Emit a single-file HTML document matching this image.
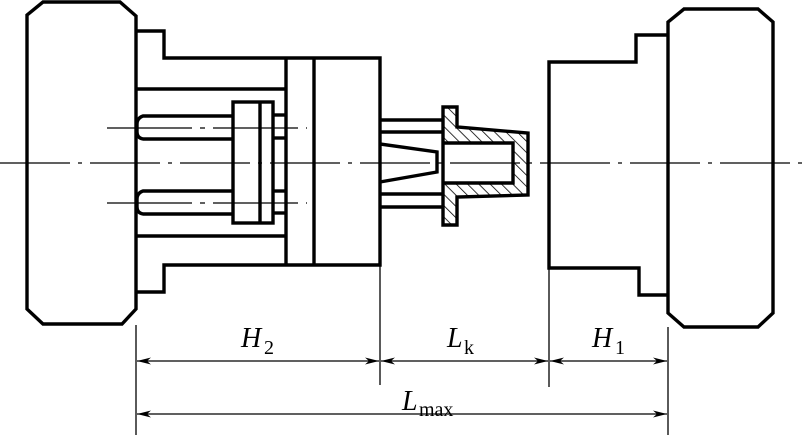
<!DOCTYPE html>
<html><head><meta charset="utf-8"><style>
html,body{margin:0;padding:0;background:#fff}
svg{display:block}
text{font-family:"Liberation Serif",serif;fill:#000}
</style></head><body>
<svg width="807" height="435" viewBox="0 0 807 435" xmlns="http://www.w3.org/2000/svg">
<defs>
<pattern id="h" patternUnits="userSpaceOnUse" width="8" height="8" patternTransform="rotate(-45)">
<line x1="0" y1="0" x2="0" y2="8" stroke="#000" stroke-width="1.6"/>
</pattern>
<marker id="a" viewBox="0 0 14 7" refX="14" refY="3.5" markerWidth="14" markerHeight="7" orient="auto-start-reverse" markerUnits="userSpaceOnUse">
<path d="M0,0 L14,3.5 L0,7 L4,3.5 Z" fill="#000"/>
</marker>
</defs>
<g fill="none" stroke="#000" stroke-width="3.4" stroke-linejoin="miter">
<polygon points="43,2 120,2 136,16 136,309 122,324 43,324 27,309 27,15"/>
<polyline points="136,31 164,31 164,58 380,58 380,265 164,265 164,292 136,292"/>
<line x1="136" y1="89" x2="285" y2="89"/>
<line x1="136" y1="236" x2="285" y2="236"/>
<line x1="286" y1="58" x2="286" y2="265"/>
<line x1="314" y1="58" x2="314" y2="265"/>
<path d="M233,116 L143,116 Q137,118 137,124 L137,132 Q137,138 143,139 L233,139"/>
<path d="M233,191 L143,191 Q137,193 137,199 L137,207 Q137,213 143,214 L233,214"/>
<rect x="233" y="102" width="40" height="121"/>
<line x1="260" y1="102" x2="260" y2="223"/>
<polyline points="273,115 285,115"/><polyline points="273,138 285,138"/>
<polyline points="273,191 285,191"/><polyline points="273,213 285,213"/>
<line x1="380" y1="120" x2="443" y2="120"/>
<line x1="380" y1="132" x2="443" y2="132"/>
<line x1="380" y1="194" x2="443" y2="194"/>
<line x1="380" y1="207" x2="443" y2="207"/>
<polyline points="380,144 437,152 437,172 380,182"/>
</g>
<path d="M443,107 L457,107 L457,127 L528,133 L528,195 L457,197 L457,225 L443,225 Z M443,143 L513,143 L513,183 L443,183 Z" fill="url(#h)" fill-rule="evenodd" stroke="#000" stroke-width="3.4"/>
<g fill="none" stroke="#000" stroke-width="3.4">
<polyline points="668,35 636,35 636,62 549,62 549,268 639,268 639,295 668,295"/>
<polygon points="684,9 758,9 773,22 773,313 758,327 684,327 668,313 668,22"/>
</g>
<g stroke="#000" stroke-width="1.3" fill="none">
<line x1="0" y1="163" x2="807" y2="163" stroke-dasharray="70,8,4,8"/>
<line x1="107" y1="128" x2="307" y2="128" stroke-dasharray="85,8,5,8"/>
<line x1="107" y1="203" x2="307" y2="203" stroke-dasharray="85,8,5,8"/>
<line x1="136" y1="325" x2="136" y2="435"/>
<line x1="668" y1="327" x2="668" y2="435"/>
<line x1="380" y1="265" x2="380" y2="385"/>
<line x1="549" y1="268" x2="549" y2="387"/>
<line x1="137" y1="361" x2="379" y2="361" marker-start="url(#a)" marker-end="url(#a)"/>
<line x1="381" y1="361" x2="548" y2="361" marker-start="url(#a)" marker-end="url(#a)"/>
<line x1="550" y1="361" x2="667" y2="361" marker-start="url(#a)" marker-end="url(#a)"/>
<line x1="137" y1="414" x2="667" y2="414" marker-start="url(#a)" marker-end="url(#a)"/>
</g>
<text x="241" y="347" font-size="28" font-style="italic">H</text><text x="264" y="354" font-size="20">2</text>
<text x="447" y="347" font-size="28" font-style="italic">L</text><text x="464" y="354" font-size="20">k</text>
<text x="592" y="347" font-size="28" font-style="italic">H</text><text x="615" y="354" font-size="20">1</text>
<text x="402" y="410" font-size="28" font-style="italic">L</text><text x="419" y="416" font-size="20">max</text>
</svg>
</body></html>
